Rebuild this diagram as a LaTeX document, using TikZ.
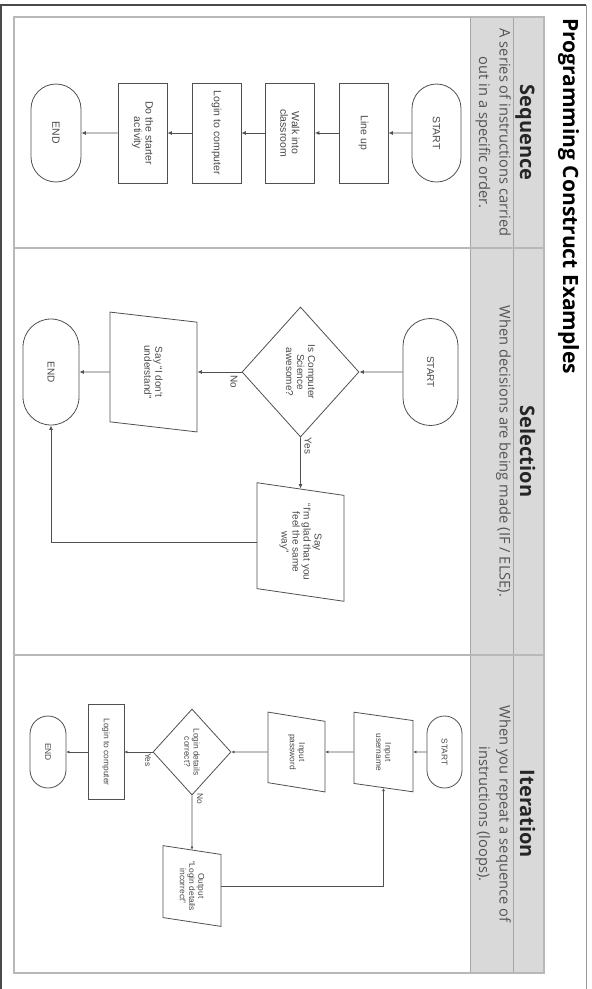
\documentclass[tikz,border=0pt]{standalone}
\usepackage{fontspec}
\setmainfont{Open Sans}
\newfontfamily\flowfont{Liberation Sans}
\usetikzlibrary{shapes.geometric,shapes.misc,arrows.meta}
\definecolor{bandgray}{HTML}{D9D9D9}
\definecolor{bandline}{HTML}{A6A6A6}
\definecolor{tablegray}{HTML}{B8B8B8}
\definecolor{framedark}{HTML}{4A4A4A}
\definecolor{framegray}{HTML}{9A9A9A}
\definecolor{flowline}{HTML}{505050}
\definecolor{flowtext}{HTML}{4A4A4A}
\definecolor{desctext}{HTML}{555555}
\definecolor{headtext}{HTML}{262626}
\tikzset{
  flowbase/.style={draw=flowline, line width=0.8pt, text=flowtext, align=center, inner sep=1pt},
  seqfont/.style={font=\flowfont\fontsize{10.5}{11.5}\selectfont},
  selfont/.style={font=\flowfont\fontsize{10}{11}\selectfont},
  itfont/.style={font=\flowfont\fontsize{8.4}{9.2}\selectfont},
  termbox/.style={flowbase, rounded rectangle},
  procbox/.style={flowbase, rectangle},
  decbox/.style={flowbase, diamond},
  iobox/.style={flowbase, trapezium, trapezium stretches=true},
  arr/.style={draw=flowline, line width=0.8pt, -{Latex[length=4.5pt,width=4pt]}},
  arrsmall/.style={draw=flowline, line width=0.7pt, -{Latex[length=3pt,width=3pt]}},
  lbl/.style={text=flowtext, inner sep=0pt},
  headtitle/.style={font=\fontsize{20}{24}\bfseries\selectfont, text=headtext, inner sep=0pt, anchor=base},
  desc/.style={font=\fontsize{14.7}{20.5}\selectfont, text=desctext, inner sep=0pt, anchor=north, align=center},
}
\begin{document}
\begin{tikzpicture}[x=1pt,y=1pt]
\useasboundingbox (0,0) rectangle (592,-989);
\fill[white] (0,0) rectangle (592,-989);
% page frame
\draw[framedark, line width=1.4pt] (1,-989) -- (1,-5) -- (586,-5);
\draw[framegray, line width=1pt] (586,-5) -- (586,-989);
\begin{scope}[rotate=-90, transform shape]
  % table
  \fill[bandgray] (17,470) rectangle (973,544);
  \draw[bandline, line width=0.9pt] (17,470) -- (973,470);
  \draw[bandline, line width=0.9pt] (17,513) -- (973,513);
  \draw[tablegray, line width=1.3pt] (17,14) rectangle (973,544);
  \draw[tablegray, line width=1.3pt] (248,14) -- (248,544);
  \draw[tablegray, line width=1.3pt] (655,14) -- (655,544);
  % title
  \node[anchor=base west, inner sep=0pt, font=\fontsize{21}{25}\bfseries\selectfont] (title) at (18,563) {Programming Construct Examples};
  % headers
  \node[headtitle] (hseq) at (132.5,520) {Sequence};
  \node[headtitle] (hsel) at (451.5,520) {Selection};
  \node[headtitle] (hit) at (814,520) {Iteration};
  % descriptions
  \node[desc] (dseq) at (132.5,511) {A series of instructions carried\\out in a specific order.};
  \node[desc] (dsel) at (451.5,511) {When decisions are being made (IF / ELSE).};
  \node[desc] (dit) at (814,511) {When you repeat a sequence of\\instructions (loops).};

  % ---- Sequence ----
  \node[termbox, seqfont, minimum width=100, minimum height=49] (sst) at (133,436.5) {START};
  \node[procbox, seqfont, minimum width=100, minimum height=49] (s1) at (133,363.5) {Line up};
  \node[procbox, seqfont, minimum width=100, minimum height=49] (s2) at (133,290) {Walk into\\classroom};
  \node[procbox, seqfont, minimum width=100, minimum height=49] (s3) at (133,216.5) {Login to computer};
  \node[procbox, seqfont, minimum width=100, minimum height=49] (s4) at (133,142.5) {Do the starter\\activity};
  \node[termbox, seqfont, minimum width=100, minimum height=50] (send) at (133,56) {END};
  \draw[arr] (sst) -- (s1);
  \draw[arr] (s1) -- (s2);
  \draw[arr] (s2) -- (s3);
  \draw[arr] (s3) -- (s4);
  \draw[arr] (s4) -- (send);

  % ---- Selection ----
  \node[termbox, selfont, minimum width=109, minimum height=55] (lst) at (372,430.5) {START};
  \node[decbox, selfont, minimum width=130, minimum height=117, inner sep=0pt] (ld) at (372,300.5) {Is Computer\\Science\\awesome?};
  \node[iobox, selfont, minimum width=120, minimum height=87, trapezium left angle=74.6, trapezium right angle=105.4] (lno) at (372,153.5) {Say “I don't\\understand”};
  \node[iobox, selfont, minimum width=119, minimum height=87, trapezium left angle=76.4, trapezium right angle=103.6] (lyes) at (542,300.5) {Say\\“I'm glad that you\\feel the same\\way”};
  \node[termbox, selfont, minimum width=108, minimum height=56] (lend) at (372,51) {END};
  \draw[arr] (lst) -- (ld);
  \draw[arr] (ld) -- (lno);
  \draw[arr] (lno) -- (lend);
  \draw[arr] (ld) -- (lyes);
  \draw[arr] (lyes.south) |- (lend.east);
  \node[lbl, selfont] (lnolbl) at (382,234) {No};
  \node[lbl, selfont] (lyeslbl) at (446,308) {Yes};

  % ---- Iteration ----
  \node[termbox, itfont, minimum width=74, minimum height=35] (ist) at (752,444.5) {START};
  \node[iobox, itfont, minimum width=80, minimum height=59, trapezium left angle=73, trapezium right angle=107] (iu) at (752,383.5) {Input\\username};
  \node[iobox, itfont, minimum width=80, minimum height=57, trapezium left angle=73, trapezium right angle=107] (ip) at (752,296.5) {Input\\password};
  \node[decbox, itfont, minimum width=86, minimum height=78, inner sep=0pt] (id) at (752,192) {Login details\\correct?};
  \node[procbox, itfont, minimum width=95, minimum height=36] (il) at (752,106) {Login to computer};
  \node[termbox, itfont, minimum width=74, minimum height=36] (iend) at (752,48) {END};
  \node[iobox, itfont, minimum width=81, minimum height=58, trapezium left angle=74.6, trapezium right angle=105.4] (io) at (886,192) {Output\\“Login details\\incorrect”};
  \draw[arrsmall] (ist) -- (iu);
  \draw[arrsmall] (iu) -- (ip);
  \draw[arrsmall] (ip) -- (id);
  \draw[arrsmall] (id) -- (il);
  \draw[arrsmall] (il) -- (iend);
  \draw[arrsmall] (id) -- (io);
  \draw[arrsmall] (io.north) |- (iu.east);
  \node[lbl, itfont] (iyeslbl) at (760,148) {Yes};
  \node[lbl, itfont] (inolbl) at (799,200) {No};
\end{scope}
\end{tikzpicture}
\end{document}
